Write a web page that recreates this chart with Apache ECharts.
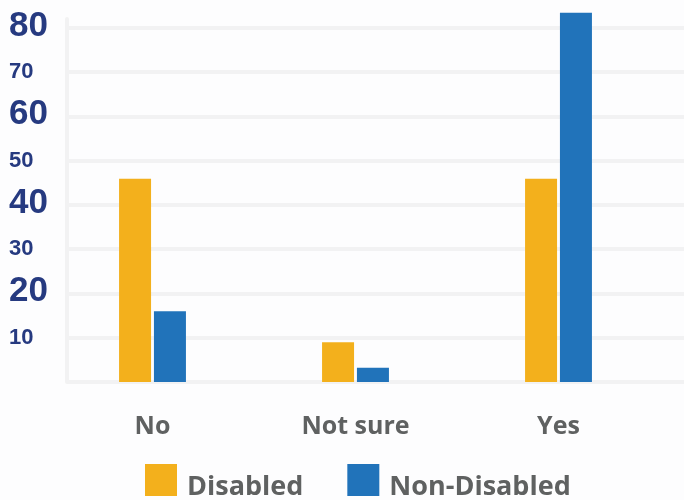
<!DOCTYPE html>
<html>
<head>
<meta charset="utf-8">
<script src="https://cdn.jsdelivr.net/npm/echarts@6/dist/echarts.min.js"></script>
<style>
html,body{margin:0;padding:0;background:#fdfdfe;}
#c{width:684px;height:500px;}
</style>
</head>
<body>
<div id="c"></div>
<script>
const categories = ['No', 'Not sure', 'Yes'];
const seriesNames = ['Disabled', 'Non-Disabled'];
const disabled = [45.9, 9.0, 45.9];
const nonDisabled = [16.0, 3.2, 83.4];
const yTicks = [0, 10, 20, 30, 40, 50, 60, 70, 80];

const chart = echarts.init(document.getElementById('c'));
const grey = '#5f6161';
const navy = '#263a80';
const lineGrey = '#f2f2f3';

chart.setOption({
  backgroundColor: '#fdfdfe',
  animation: false,
  color: ['#f3b01c', '#2173ba'],
  legend: {
    data: seriesNames,
    left: 145,
    top: 464,
    padding: 0,
    icon: 'rect',
    itemWidth: 32,
    itemHeight: 32,
    itemGap: 44,
    formatter: function (name) { return '{t|' + name + '}'; },
    textStyle: {
      fontFamily: 'Open Sans',
      fontWeight: 'bold',
      fontSize: 27,
      color: grey,
      rich: {
        t: {fontFamily: 'Open Sans', fontWeight: 'bold', fontSize: 27, color: grey, padding: [14, 0, 0, 5]}
      }
    }
  },
  grid: [
    {left: 51, right: 24, top: 19, bottom: 118},
    {left: 67, right: 0, top: 19, bottom: 118}
  ],
  xAxis: [
    {
      type: 'category', gridIndex: 0, data: categories,
      axisLine: {show: false}, axisTick: {show: false},
      axisLabel: {
        margin: 32, fontFamily: 'Open Sans', fontWeight: 'bold',
        fontSize: 25, color: grey
      }
    },
    {type: 'category', gridIndex: 1, data: categories, show: false}
  ],
  yAxis: [
    {type: 'value', gridIndex: 0, min: 0, max: 82, show: false},
    {
      type: 'value', gridIndex: 1, min: 0, max: 82, interval: 10,
      axisLine: {show: true, lineStyle: {color: lineGrey, width: 4}},
      axisTick: {show: false},
      splitLine: {show: true, showMaxLine: false, lineStyle: {color: lineGrey, width: 4}},
      axisLabel: {
        showMaxLabel: false,
        align: 'left',
        margin: 58,
        formatter: function (v) {
          if (yTicks.indexOf(v) < 1) return '';
          return (v % 20 === 0) ? '{b|' + v + '}' : '{s|' + v + '}';
        },
        rich: {
          b: {fontFamily: 'Liberation Sans', fontWeight: 'bold', fontSize: 35, color: navy, padding: [0, 0, 4, 0]},
          s: {fontFamily: 'Liberation Sans', fontWeight: 'bold', fontSize: 22, color: navy, padding: [0, 0, 0, 0]}
        }
      }
    }
  ],
  series: [
    {
      name: seriesNames[0], type: 'bar', xAxisIndex: 0, yAxisIndex: 0,
      data: disabled, barWidth: 32, barGap: '9%', clip: false
    },
    {
      name: seriesNames[1], type: 'bar', xAxisIndex: 0, yAxisIndex: 0,
      data: nonDisabled, barWidth: 32, barGap: '9%', clip: false
    }
  ]
});
</script>
</body>
</html>
